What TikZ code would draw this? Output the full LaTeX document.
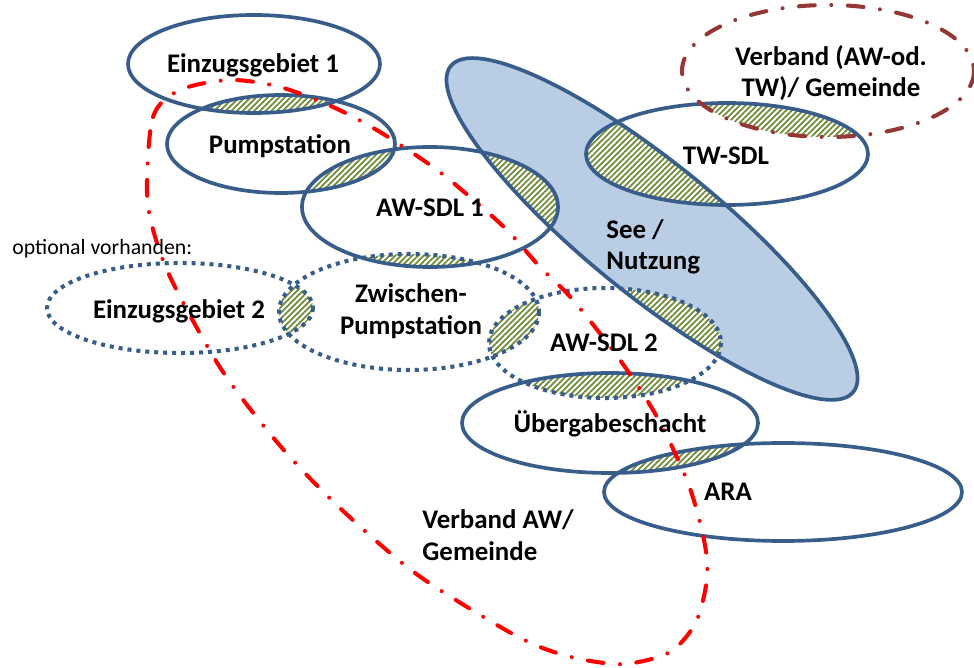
\documentclass[tikz,border=0pt]{standalone}
\usepackage{fontspec}
\setmainfont{Carlito}
\usetikzlibrary{patterns.meta}
\definecolor{sdlblue}{HTML}{385D8A}
\definecolor{seefill}{HTML}{B9CDE5}
\definecolor{hatchgreen}{HTML}{6E8B35}
\definecolor{verbandbrown}{HTML}{953735}
\definecolor{verbandred}{HTML}{FF0000}
\newcommand\ellEinzA{(254,64) ellipse [x radius=126, y radius=49]}
\newcommand\ellPump{(281,144) ellipse [x radius=114, y radius=49]}
\newcommand\ellAWA{(430,207) ellipse [x radius=128, y radius=60]}
\newcommand\ellEinzB{(180,308) ellipse [x radius=133, y radius=45]}
\newcommand\ellZwPump{(409,312) ellipse [x radius=130, y radius=58]}
\newcommand\ellAWB{(605,343) ellipse [x radius=116, y radius=55]}
\newcommand\ellUeb{(610,423) ellipse [x radius=148, y radius=50]}
\newcommand\ellARA{(783,492) ellipse [x radius=179, y radius=49]}
\newcommand\ellTW{(727,154) ellipse [x radius=141, y radius=51]}
\newcommand\ellVerbTW{(828,71) ellipse [x radius=146, y radius=66]}
\newcommand\ellSee{[rotate around={-39:(652,229)}] (652,229) ellipse [x radius=259, y radius=66]}
\newcommand\hatchpair[2]{\begin{scope}\clip #1; \fill[hatch] #2;\end{scope}}
\tikzset{
  lbl/.style={font=\bfseries\fontsize{15.3}{18}\selectfont, inner sep=0pt},
  solidell/.style={draw=sdlblue, line width=2.1pt},
  dottedell/.style={draw=sdlblue, line width=2.3pt, dash pattern=on 2.3pt off 2.8pt},
  verbandline/.style={line width=2.3pt, line cap=round, dash pattern=on 9pt off 9.4pt on 0pt off 9.4pt},
  hatch/.style={fill=white, postaction={pattern={Lines[angle=45, distance=2.3pt, line width=1pt]}, pattern color=hatchgreen}}
}
\begin{document}
\begin{tikzpicture}[x=0.02cm, y=-0.02cm]
  \useasboundingbox (0,0) rectangle (974,668);
  \fill[seefill] \ellSee;
  \hatchpair{\ellEinzA}{\ellPump}
  \hatchpair{\ellPump}{\ellAWA}
  \hatchpair{\ellSee}{\ellAWA}
  \hatchpair{\ellAWA}{\ellZwPump}
  \hatchpair{\ellEinzB}{\ellZwPump}
  \hatchpair{\ellZwPump}{\ellAWB}
  \hatchpair{\ellSee}{\ellAWB}
  \hatchpair{\ellAWB}{\ellUeb}
  \hatchpair{\ellUeb}{\ellARA}
  \hatchpair{\ellSee}{\ellTW}
  \hatchpair{\ellVerbTW}{\ellTW}
  \draw[solidell] \ellSee;
  \draw[solidell] \ellEinzA;
  \draw[solidell] \ellPump;
  \draw[solidell] \ellAWA;
  \draw[solidell] \ellUeb;
  \draw[solidell] \ellARA;
  \draw[solidell] \ellTW;
  \draw[dottedell] \ellEinzB;
  \draw[dottedell] \ellZwPump;
  \draw[dottedell] \ellAWB;
  \draw[verbandline, draw=verbandbrown] \ellVerbTW;
  \draw[verbandline, draw=verbandred] plot[smooth cycle] coordinates {
    (147,193) (153,117) (180,90) (230,80) (280,87) (333,107) (380,132)
    (433,167) (470,197) (507,230) (540,267) (573,300) (620,360) (657,417)
    (688,483) (704,540) (707,578) (696,622) (670,652) (625,664) (580,659)
    (540,647) (497,625) (415,573) (342,510) (282,448) (223,372) (175,287)
    (156,240)};
  \node[lbl] (einz1) at (253,65) {Einzugsgebiet 1};
  \node[lbl] (pump) at (280,146) {Pumpstation};
  \node[lbl] (awsdl1) at (430,208) {AW-SDL 1};
  \node[lbl, align=left, anchor=west] (see) at (606,247) {See /\\Nutzung};
  \node[lbl] (twsdl) at (726,156) {TW-SDL};
  \node[lbl, align=center] (verbtw) at (831,73) {Verband (AW-od.\\TW)/ Gemeinde};
  \node[font=\fontsize{12.4}{14}\selectfont, anchor=west, inner sep=0pt] (optional) at (12,249) {optional vorhanden:};
  \node[lbl] (einz2) at (179,311) {Einzugsgebiet 2};
  \node[lbl, align=center] (zwpump) at (411,311) {Zwischen-\\Pumpstation};
  \node[lbl] (awsdl2) at (604,343) {AW-SDL 2};
  \node[lbl] (ueb) at (610,424) {Übergabeschacht};
  \node[lbl] (ara) at (728,492) {ARA};
  \node[lbl, align=left, anchor=west] (verbaw) at (422,535) {Verband AW/\\Gemeinde};
\end{tikzpicture}
\end{document}
